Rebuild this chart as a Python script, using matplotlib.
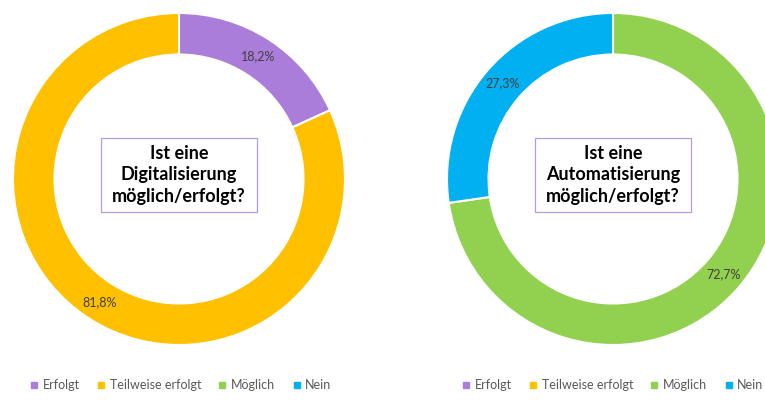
import matplotlib.pyplot as plt
from matplotlib.lines import Line2D
from matplotlib.patches import Rectangle

# survey answers, shares in percent
categories = ['Erfolgt', 'Teilweise erfolgt', 'Möglich', 'Nein']
colors = ['#A97DD9', '#FFC000', '#92D050', '#00B0F0']

digital_values = [18.2, 81.8, 0.0, 0.0]
auto_values = [0.0, 0.0, 72.7, 27.3]

questions = ['Ist eine\nDigitalisierung\nmöglich/erfolgt?',
             'Ist eine\nAutomatisierung\nmöglich/erfolgt?']

plt.rcParams['font.family'] = ['Lato', 'DejaVu Sans']

W, H = 765, 403
fig = plt.figure(figsize=(W / 100, H / 100), dpi=100)
fig.patch.set_facecolor('white')

R = 166  # outer radius in px


def donut(cx, cy, values, question, legend_x):
    ax = fig.add_axes([(cx - R) / W, (H - cy - R) / H, 2 * R / W, 2 * R / H])
    vals = [v for v in values if v > 0]
    cols = [c for v, c in zip(values, colors) if v > 0]
    wedges, texts, autotexts = ax.pie(
        vals, colors=cols, startangle=90, counterclock=False,
        wedgeprops=dict(width=0.25, edgecolor='white', linewidth=1.5),
        autopct=lambda p: f'{p:.1f}%'.replace('.', ','),
        pctdistance=0.88, textprops=dict(color='#404040', fontsize=9))
    ax.set_xlim(-1, 1)
    ax.set_ylim(-1, 1)
    ax.set_aspect('equal')
    ax.axis('off')

    # framed question in the hole
    ax.add_patch(Rectangle((-0.47, -0.2), 0.94, 0.45, facecolor='white',
                           edgecolor='#B59BD9', linewidth=0.9))
    ax.text(0, 0.025, question, ha='center', va='center', fontsize=13,
            fontweight='bold', color='black', linespacing=1.3)

    handles = [Line2D([], [], marker='s', linestyle='none', markersize=5,
                      color=c) for c in colors]
    fig.legend(handles, categories, loc='center left',
               bbox_to_anchor=(legend_x / W, 1 - 385 / H), ncol=4,
               frameon=False, fontsize=9, labelcolor='#595959',
               handlelength=0.6, handletextpad=0.4, columnspacing=1.4,
               borderaxespad=0, borderpad=0)


donut(179, 179, digital_values, questions[0], 30)
donut(613, 179, auto_values, questions[1], 462)

fig.savefig('out.png', dpi=100)
